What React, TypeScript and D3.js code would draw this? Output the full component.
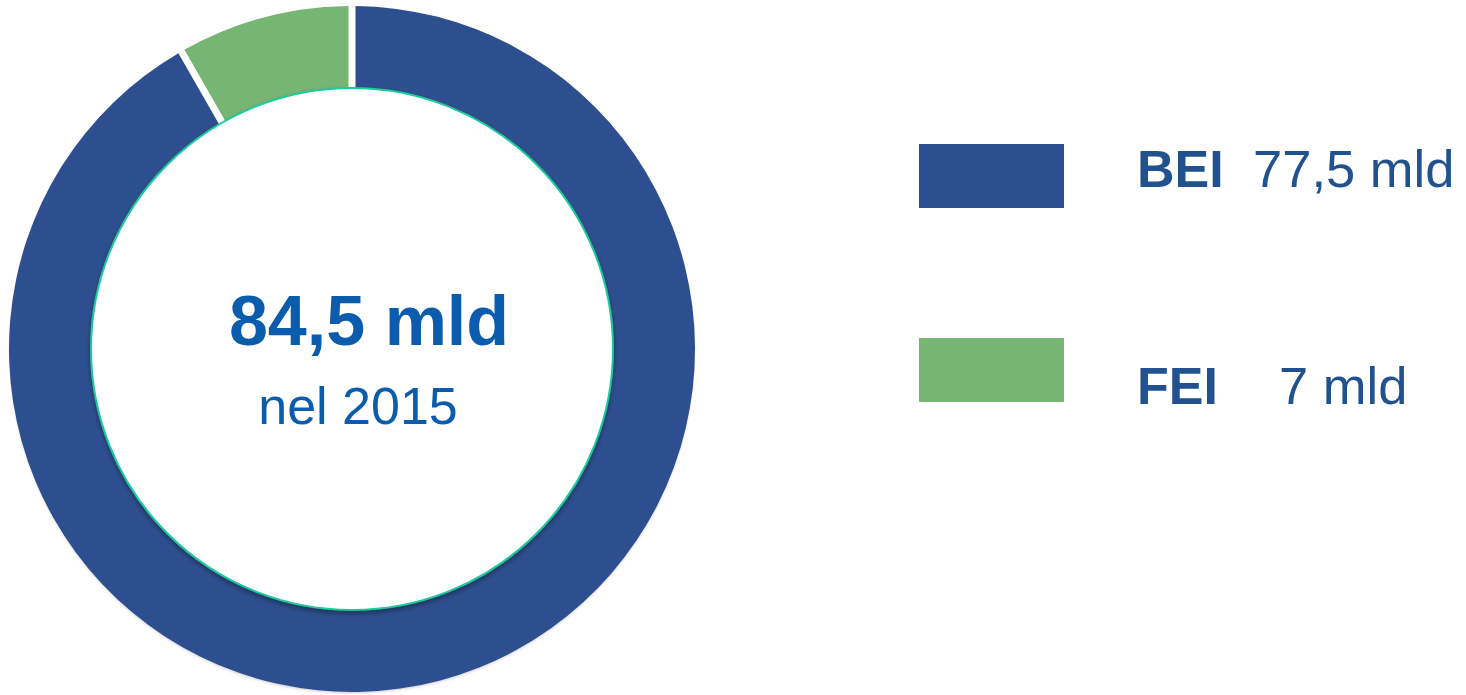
import * as d3 from "d3";
import { useEffect, useRef } from "react";

const labels = ["BEI", "FEI"];
const values = [77.5, 7];
const valueLabels = ["77,5 mld", "7 mld"];
const colors = ["#2E4F8F", "#77B574"];
const totalLabel = "84,5 mld";
const yearLabel = "nel 2015";

export default function App() {
  const svgRef = useRef<SVGSVGElement | null>(null);

  useEffect(() => {
    if (!svgRef.current) return;
    const svg = d3.select(svgRef.current);
    svg.selectAll("*").remove();

    const cx = 352;
    const cy = 349;
    const outer = 343;
    const inner = 258;

    const defs = svg.append("defs");
    const f = defs.append("filter").attr("id", "sh").attr("x", "-10%").attr("y", "-10%").attr("width", "120%").attr("height", "125%");
    f.append("feDropShadow").attr("dx", 0).attr("dy", 3).attr("stdDeviation", 2.5).attr("flood-color", "#000").attr("flood-opacity", 0.35);
    const f2 = defs.append("filter").attr("id", "sh2").attr("x", "-10%").attr("y", "-10%").attr("width", "120%").attr("height", "125%");
    f2.append("feDropShadow").attr("dx", 0).attr("dy", 2).attr("stdDeviation", 1.5).attr("flood-color", "#000").attr("flood-opacity", 0.2);

    const pie = d3.pie<number>().sort(null).value((d) => d);
    const arc = d3
      .arc<d3.PieArcDatum<number>>()
      .innerRadius(inner)
      .outerRadius(outer)
      .padRadius(outer)
      .padAngle(7 / outer);

    const g = svg.append("g").attr("transform", `translate(${cx},${cy})`);

    // soft shadow under the ring, kept out of the white gaps
    g.append("circle").attr("r", outer - 1).attr("fill", "#fff").attr("filter", "url(#sh2)");

    g.append("g")
      .selectAll("path")
      .data(pie(values))
      .join("path")
      .attr("d", arc as any)
      .attr("fill", (_, i) => colors[i]);

    g.append("circle")
      .attr("r", 261)
      .attr("fill", "#fff")
      .attr("stroke", "#1DCB9A")
      .attr("stroke-width", 2)
      .attr("filter", "url(#sh)");

    g.append("text")
      .attr("x", 17)
      .attr("y", -4)
      .attr("text-anchor", "middle")
      .attr("font-family", "Liberation Sans, Arial, sans-serif")
      .attr("font-weight", "bold")
      .attr("font-size", 70)
      .attr("fill", "#0B5CAD")
      .text(totalLabel);

    g.append("text")
      .attr("x", 6)
      .attr("y", 75)
      .attr("text-anchor", "middle")
      .attr("font-family", "Liberation Sans, Arial, sans-serif")
      .attr("font-size", 52)
      .attr("fill", "#0B5CAD")
      .text(yearLabel);

    const ly = d3.scaleOrdinal<string, number>().domain(labels).range([144, 338]);
    const valueX = [1253, 1279];
    const legend = svg
      .append("g")
      .selectAll("g")
      .data(labels)
      .join("g")
      .attr("transform", (d) => `translate(0,${ly(d)})`);

    legend
      .append("rect")
      .attr("x", 919)
      .attr("width", 145)
      .attr("height", 64)
      .attr("fill", (_, i) => colors[i]);

    legend
      .append("text")
      .attr("x", 1137)
      .attr("y", (_, i) => (i === 0 ? 43 : 66))
      .attr("font-family", "Liberation Sans, Arial, sans-serif")
      .attr("font-weight", "bold")
      .attr("font-size", 52)
      .attr("fill", "#21528F")
      .text((d) => d);

    legend
      .append("text")
      .attr("x", (_, i) => valueX[i])
      .attr("y", (_, i) => (i === 0 ? 43 : 66))
      .attr("font-family", "Liberation Sans, Arial, sans-serif")
      .attr("font-size", 52.5)
      .attr("fill", "#21528F")
      .text((_, i) => valueLabels[i]);
  }, []);

  return (
    <svg
      ref={svgRef}
      width={1466}
      height={695}
      style={{ position: "absolute", left: 0, top: 0, background: "#fff" }}
    />
  );
}
